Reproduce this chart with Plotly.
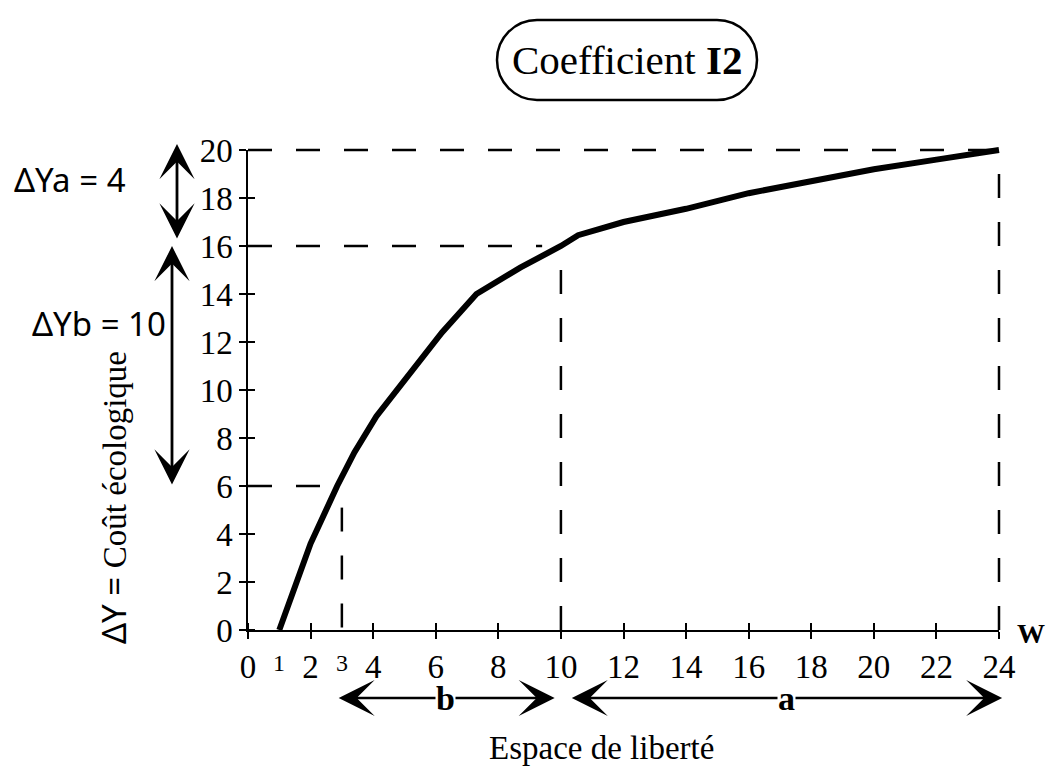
import plotly.graph_objects as go

# Ecological cost as a function of the liberty space W
w = [1, 2, 2.85, 3.4, 4.1, 5.1, 6.2, 7.3, 8.7, 10, 10.55, 12, 14, 16, 18, 20, 22, 24]
cost = [0, 3.6, 6, 7.4, 8.9, 10.6, 12.4, 14, 15.1, 16, 16.45, 17.0, 17.55, 18.2, 18.7, 19.2, 19.6, 20]

x_ticks = list(range(0, 25, 2))
y_ticks = list(range(0, 21, 2))
x_extra_labels = [1, 3]

# dashed reference lines
h_guides_y = [20, 16, 6]
h_guides_x_end = [24, 9.4, 2.6]
v_guides_x = [24, 10, 3]
v_guides_y_top = [19.0, 15.0, 5.1]

# ΔY brackets
dYa = 4
dYa_top = 20.25
dYb = 10
dYb_top = 16

# liberty-space spans
b_span = [2.85, 9.8]
a_span = [10.3, 24.1]

SERIF = "Liberation Serif, Times New Roman, serif"
SANS = "Noto Sans, sans-serif"

# page geometry
W, H = 1048, 767
X0_PX, X1_PX = 248, 999
Y0_PX, Y1_PX = 630, 150
x_range = [0, 24]
y_range = [0, 20]
ppx = (X1_PX - X0_PX) / (x_range[1] - x_range[0])
ppy = (Y0_PX - Y1_PX) / (y_range[1] - y_range[0])
pad = 1.0  # extra data room so thick strokes at the edges are not clipped


def px(p):
    return p / W


def py(p):
    return 1 - p / H


fig = go.Figure()

# curve and guides live on hidden, slightly larger axes with identical scale
for y, xe in zip(h_guides_y, h_guides_x_end):
    fig.add_trace(go.Scatter(x=[0, xe], y=[y, y], mode="lines",
                             line=dict(color="black", width=2.5, dash="24px,24px"),
                             xaxis="x2", yaxis="y2", hoverinfo="skip"))
for x, yt in zip(v_guides_x, v_guides_y_top):
    fig.add_trace(go.Scatter(x=[x, x], y=[yt, 0], mode="lines",
                             line=dict(color="black", width=2.5, dash="24px,24px"),
                             xaxis="x2", yaxis="y2", hoverinfo="skip"))

fig.add_trace(go.Scatter(x=w, y=cost, mode="lines",
                         line=dict(color="black", width=6),
                         xaxis="x2", yaxis="y2"))

axis_common = dict(
    showgrid=False, zeroline=False, showline=True, linecolor="black", linewidth=1.5,
    ticks="outside", ticklen=7, tickwidth=1.5, tickcolor="black",
    tickfont=dict(family=SERIF, size=33, color="black"),
    tickmode="array", automargin=False,
)

fig.update_layout(
    template="none",
    width=W, height=H, autosize=False,
    margin=dict(l=0, r=0, t=0, b=0, pad=0, autoexpand=False),
    paper_bgcolor="white", plot_bgcolor="rgba(0,0,0,0)",
    showlegend=False,
    xaxis=dict(domain=[px(X0_PX), px(X1_PX)], range=x_range, anchor="y",
               tickvals=x_ticks,
               minor=dict(ticks="inside", ticklen=7, tickwidth=1.5, tickcolor="black",
                          tickmode="array", tickvals=x_ticks),
               **axis_common),
    yaxis=dict(domain=[py(Y0_PX), py(Y1_PX)], range=y_range, anchor="x",
               tickvals=y_ticks,
               minor=dict(ticks="inside", ticklen=7, tickwidth=1.5, tickcolor="black",
                          tickmode="array", tickvals=y_ticks),
               **axis_common),
    xaxis2=dict(domain=[px(X0_PX - pad * ppx), px(X1_PX + pad * ppx)],
                range=[x_range[0] - pad, x_range[1] + pad], anchor="y2", visible=False),
    yaxis2=dict(domain=[py(Y0_PX + pad * ppy), py(Y1_PX - pad * ppy)],
                range=[y_range[0] - pad, y_range[1] + pad], anchor="x2", visible=False),
)

annotations = []

# small raised labels under the axis
for v in x_extra_labels:
    annotations.append(dict(x=v, xref="x", y=py(663), yref="paper", text=str(v),
                            showarrow=False, font=dict(family=SERIF, size=24, color="black"),
                            xanchor="center", yanchor="middle"))

# W label at the end of the x axis
annotations.append(dict(x=px(1031), y=py(633), xref="paper", yref="paper", text="<b>W</b>",
                        showarrow=False, font=dict(family=SERIF, size=28, color="black"),
                        xanchor="center", yanchor="middle"))

# x axis title
annotations.append(dict(x=px(601), y=py(748), xref="paper", yref="paper",
                        text="Espace de liberté", showarrow=False,
                        font=dict(family=SERIF, size=33, color="black"),
                        xanchor="center", yanchor="middle"))

# y axis title
annotations.append(dict(x=px(113), y=py(498), xref="paper", yref="paper",
                        text="<span style='font-family:Noto Sans'>ΔY = </span>Coût écologique",
                        textangle=-90, showarrow=False,
                        font=dict(family=SERIF, size=33, color="black"),
                        xanchor="center", yanchor="middle"))

# title
annotations.append(dict(x=px(627), y=py(60), xref="paper", yref="paper",
                        text="Coefficient <b>I2</b>", showarrow=False,
                        font=dict(family=SERIF, size=41, color="black"),
                        xanchor="center", yanchor="middle"))

arrow_style = dict(text="", showarrow=True, arrowhead=3, startarrowhead=3,
                   arrowside="end+start", arrowcolor="black",
                   standoff=0, startstandoff=0)

# vertical ΔY brackets
annotations.append(dict(x=px(177), xref="paper", y=dYa_top, yref="y",
                        ax=0, axref="pixel", ay=dYa_top - dYa, ayref="y",
                        arrowwidth=2.8, arrowsize=2.1, startarrowsize=2.1, **arrow_style))
annotations.append(dict(x=px(172), xref="paper", y=dYb_top, yref="y",
                        ax=0, axref="pixel", ay=dYb_top - dYb, ayref="y",
                        arrowwidth=2.8, arrowsize=2.1, startarrowsize=2.1, **arrow_style))

annotations.append(dict(x=px(12), y=py(180), xref="paper", yref="paper",
                        text=f"ΔYa = {dYa}", showarrow=False,
                        font=dict(family=SANS, size=33, color="black"),
                        xanchor="left", yanchor="middle"))
annotations.append(dict(x=px(168), y=py(323), xref="paper", yref="paper",
                        text=f"ΔYb = {dYb}", showarrow=False,
                        font=dict(family=SANS, size=33, color="black"),
                        xanchor="right", yanchor="middle"))

# horizontal liberty-space arrows
for span, name in ((b_span, "b"), (a_span, "a")):
    annotations.append(dict(x=span[1], xref="x", ax=span[0], axref="x",
                            y=py(698), yref="paper", ay=0, ayref="pixel",
                            arrowwidth=2.5, arrowsize=2.4, startarrowsize=2.4, **arrow_style))
    annotations.append(dict(x=(span[0] + span[1]) / 2, xref="x", y=py(698), yref="paper",
                            text=f"<b>{name}</b>", showarrow=False, bgcolor="white",
                            borderpad=0,
                            font=dict(family=SERIF, size=34, color="black"),
                            xanchor="center", yanchor="middle"))

fig.update_layout(annotations=annotations)

# rounded frame round the title
r = 40
hw, hh = 130, 40
k = 0.5523 * r
s = hw - r
frame = (f"M {-s},{-hh} L {s},{-hh} "
         f"C {s + k},{-hh} {hw},{-k} {hw},0 "
         f"C {hw},{k} {s + k},{hh} {s},{hh} "
         f"L {-s},{hh} "
         f"C {-s - k},{hh} {-hw},{k} {-hw},0 "
         f"C {-hw},{-k} {-s - k},{-hh} {-s},{-hh} Z")
fig.add_shape(type="path", path=frame, xref="paper", yref="paper",
              xsizemode="pixel", ysizemode="pixel", xanchor=px(627), yanchor=py(60),
              line=dict(color="black", width=2.5))

fig.write_html("out.html")
